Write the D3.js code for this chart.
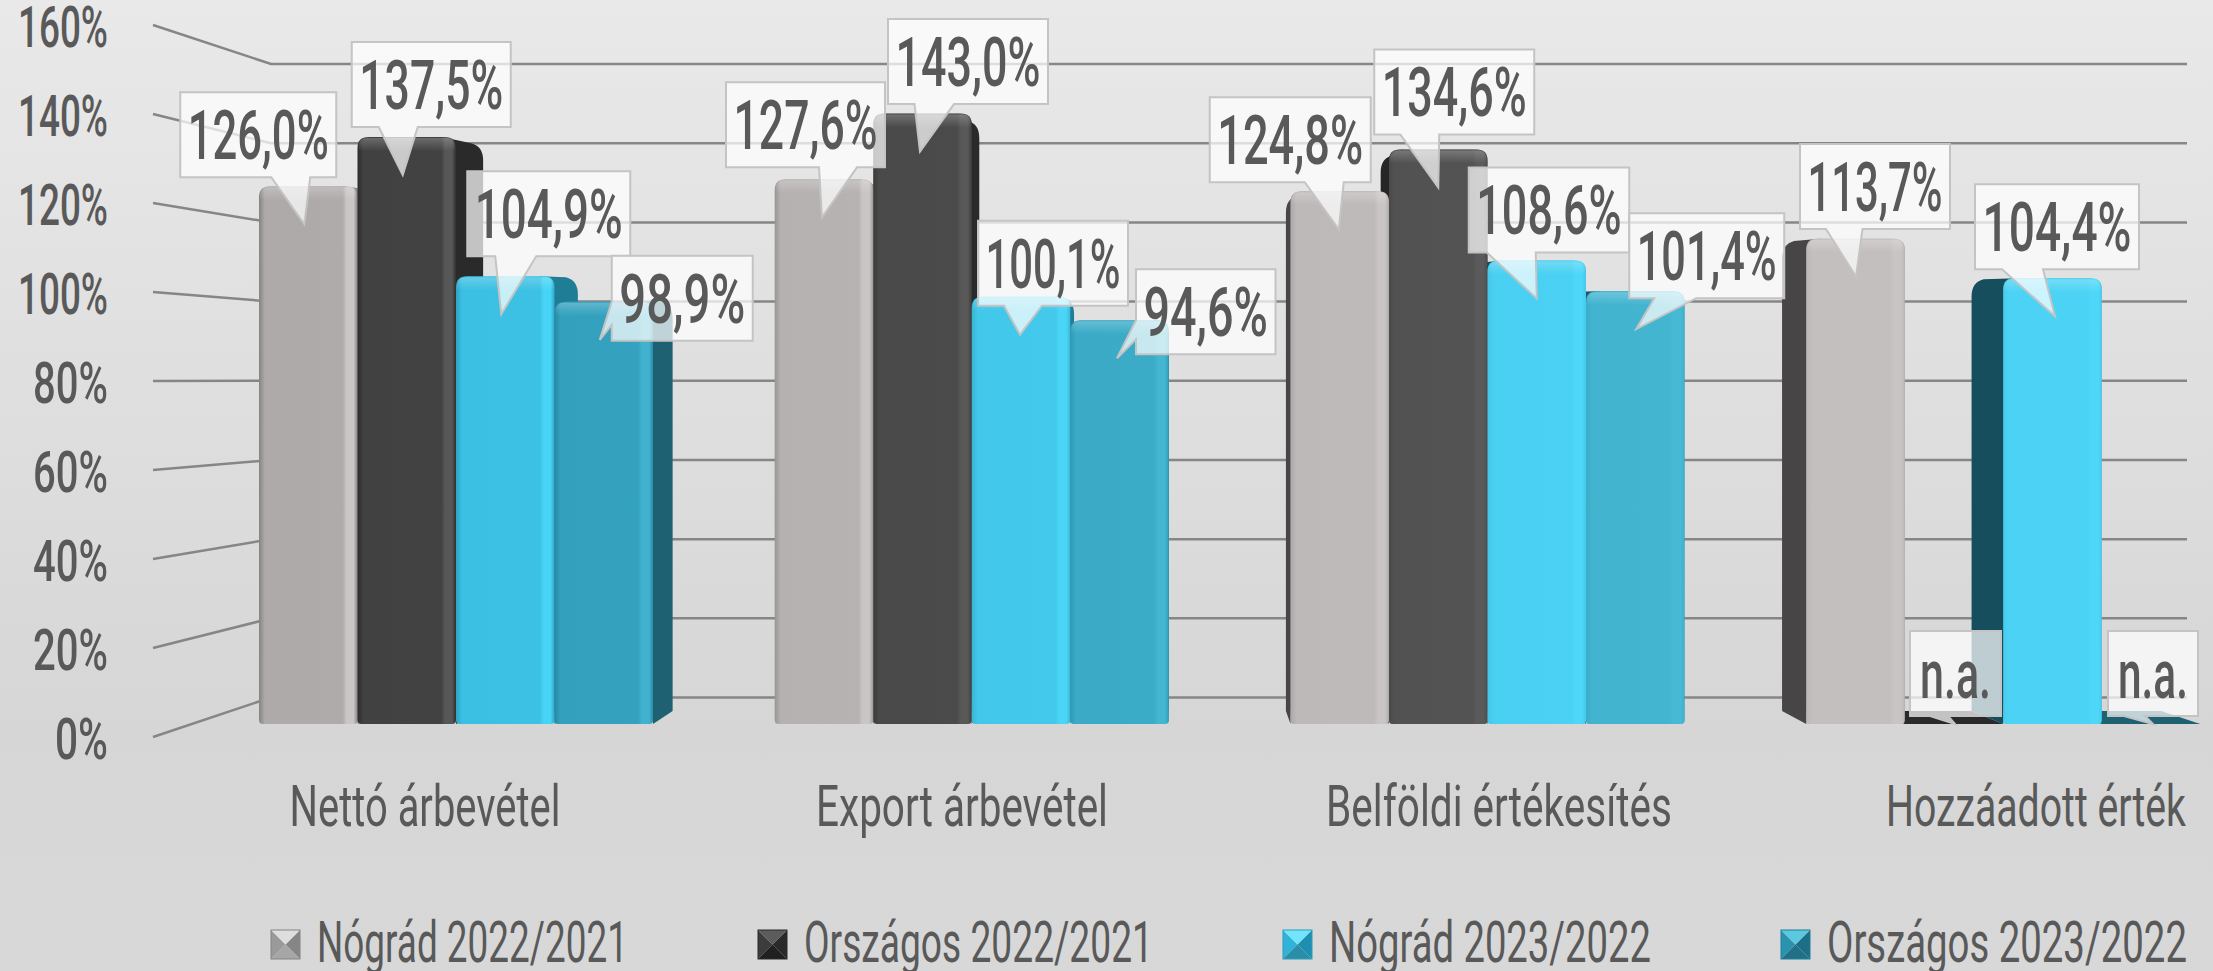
<!DOCTYPE html>
<html>
<head>
<meta charset="utf-8">
<script src="https://cdn.jsdelivr.net/npm/d3@7"></script>
<style>
html,body{margin:0;padding:0;background:#d7d7d7;overflow:hidden}
svg{display:block}
text{font-family:Roboto,"Liberation Sans",sans-serif;fill:#595959}
</style>
</head>
<body>
<svg id="c" width="2213" height="971"></svg>
<script>
// ---- data ----
const categories = ["Nettó árbevétel", "Export árbevétel", "Belföldi értékesítés", "Hozzáadott érték"];
const seriesNames = ["Nógrád 2022/2021", "Országos 2022/2021", "Nógrád 2023/2022", "Országos 2023/2022"];
const nogradPrev = [126.0, 127.6, 124.8, 113.7];
const orszagosPrev = [137.5, 143.0, 134.6, null];
const nogradCurr = [104.9, 100.1, 108.6, 104.4];
const orszagosCurr = [98.9, 94.6, 101.4, null];
const tickValues = [0, 20, 40, 60, 80, 100, 120, 140, 160];
const seriesValues = [nogradPrev, orszagosPrev, nogradCurr, orszagosCurr];

// ---- label layout (offsets from each bar's centre / pointer tip) ----
// [tipDx, boxLeft, boxRight, boxBottom, baseA, baseB, leftPointer?]
const calloutLayout = [
  [[-4,-128,28,-47,-37,2],[-2,-98,61,-50,-5,33],[-1,-130,31,-47,-35,4],[0.5,-55.5,94.5,-47.6,-29.5,7]],
  [[-4,-55,104,-48,-28,11],[-2.5,-34.5,125.5,-47.5,-8,31.5],[0,-64,96,-53,-38,1],[1,-44,47,-8,-24,-6]],
  [[-4,-38,125,-58,-10,31],[-1,-43,107,-29,-17,21],[0,-68,92.5,-46,-50,-1],[2.5,-77.5,86.5,-47,-50.5,-9.5]],
  [[-4,8,149,1,-38,-15,1],[-2.5,16.5,156,-4,-38,-19,1],[1,-6,149,-31,19,61],[2,-43,47,-8,-27,-6]]
];
const categoryWidths = [271, 292, 346, 300];
const legendWidths = [311, 349, 322, 360];

// ---- styles ----
const palette = [
  {edge:"#858381",base:"#aeaaa9",bevel:"#c9c6c5",lit:"#c8c4c3",right:"#8f8d8c",left:"#474546",sw:["#9a9a9a","#868686","#dedede","#a6a6a6"]},
  {edge:"#2b2b2b",base:"#404040",bevel:"#565656",lit:"#5c5c5c",right:"#2a2a2a",left:"#262626",sw:["#3c3c3c","#2a2a2a","#5c5c5c","#202020"]},
  {edge:"#2a9ebc",base:"#39bde0",bevel:"#45d3f5",lit:"#50d8fa",right:"#207d96",left:"#174e5d",sw:["#2fb3d6","#1e8fb0","#72e4fb","#2a8ea8"]},
  {edge:"#1f7f99",base:"#2f9cb9",bevel:"#40b0cc",lit:"#48bcd8",right:"#1d6173",left:"#1a5a6c",sw:["#2a94b0","#1c6f85","#5cc8de","#1f7088"]}
];
const W = 2213, H = 971;
const textColor = "#595959";
const vanish = {x:1170, y:381}, depth = 0.962;
const back = (x,y)=>[vanish.x+(x-vanish.x)*depth, vanish.y+(y-vanish.y)*depth];

// squeeze a text horizontally so that it spans the wanted width, anchored at (ax, ay)
function fit(node, width, ax, ay){
  const n = node.getComputedTextLength();
  d3.select(node).attr("x",0).attr("y",0).attr("dy",null).attr("transform",`translate(${ax},${ay}) scale(${width/n},1)`);
}

// ---- scales ----
const yBar = d3.scaleLinear().domain([0,160]).range([724,41]);
const yFront = d3.scaleLinear().domain([0,160]).range([737,25]);
const yBack = d3.scaleLinear().domain([0,160]).range([697.5,64]);
const x0 = d3.scaleBand().domain(categories).range([198,2261]);
const x1 = d3.scaleBand().domain(seriesNames).range([61,455]);
const xLabel = d3.scaleBand().domain(categories).range([156.5,2304.5]);
const wallFront = 153, wallBack = 271, gridEnd = 2187;

const svg = d3.select("#c");
const defs = svg.append("defs");

const bgGrad = defs.append("linearGradient").attr("id","bg").attr("x1",0).attr("x2",0).attr("y1",0).attr("y2",1);
[[0,"#e9e9e9"],[0.75,"#d6d6d6"],[1,"#d8d8d8"]].forEach(s=>bgGrad.append("stop").attr("offset",s[0]).attr("stop-color",s[1]));
svg.append("rect").attr("width",W).attr("height",H).attr("fill","url(#bg)");

palette.forEach((p,i)=>{
  const g = defs.append("linearGradient").attr("id","front"+i);
  [[0,p.edge],[0.06,p.base],[0.85,p.base],[0.89,p.bevel],[0.96,p.bevel],[1,p.edge]]
    .forEach(s=>g.append("stop").attr("offset",s[0]).attr("stop-color",s[1]));
  const l = defs.append("linearGradient").attr("id","lit"+i).attr("gradientUnits","userSpaceOnUse")
    .attr("x1",300).attr("x2",1700).attr("y1",0).attr("y2",0);
  l.append("stop").attr("offset",0).attr("stop-color",p.lit).attr("stop-opacity",0);
  l.append("stop").attr("offset",1).attr("stop-color",p.lit).attr("stop-opacity",0.8);
});
const topGlow = defs.append("linearGradient").attr("id","topGlow").attr("x1",0).attr("x2",0).attr("y1",0).attr("y2",1);
topGlow.append("stop").attr("offset",0).attr("stop-color","#fff").attr("stop-opacity",0.22);
topGlow.append("stop").attr("offset",1).attr("stop-color","#fff").attr("stop-opacity",0);

// ---- gridlines: back wall + left wall ----
const grid = svg.append("g").attr("stroke","#868686").attr("stroke-width",2.5).attr("fill","none");
grid.selectAll("path.g").data(tickValues).join("path").attr("class","g")
  .attr("d",d=>`M${wallFront},${yFront(d)}L${wallBack},${yBack(d)}L${gridEnd},${yBack(d)}`);

// ---- y axis labels ----
const axis = svg.append("g").attr("transform","translate(108,0)")
  .call(d3.axisLeft(yFront).tickValues(tickValues).tickFormat(d=>d+"%").tickSize(0).tickPadding(0));
axis.select(".domain").remove();
axis.selectAll("text")
  .style("font-size","58px").style("font-weight",500).style("font-family","Roboto").style("fill",textColor)
  .each(function(){
    const len = this.textContent.length;
    fit(this, len>3 ? 90 : (len>2 ? 75 : 53), 0, 21);
  });

// ---- bars ----
const bars = [];
categories.forEach((c,k)=>seriesNames.forEach((s,i)=>{
  const v = seriesValues[i][k];
  const xl = x0(c)+x1(s), xr = xl+x1.bandwidth();
  bars.push({c,s,k,i,v,xl,xr,top:yBar(v==null?0:v),base:yBar(0),cx:(xl+xr)/2});
}));
const poly = pts=>"M"+pts.map(p=>p.join(",")).join("L")+"Z";

// floors of the n.a. bars
svg.append("g").selectAll("path").data(bars.filter(b=>b.v==null)).join("path")
  .attr("fill",b=>palette[b.i].right)
  .attr("d",b=>poly([[b.xl,b.base],[b.xr,b.base],back(b.xr,b.base),back(b.xl,b.base)]));

// depth sides, with a rounded far corner
svg.append("g").selectAll("path").data(bars.filter(b=>b.v!=null)).join("path")
  .attr("fill",b=>b.xr<vanish.x+1?palette[b.i].right:palette[b.i].left)
  .attr("d",b=>{
    const toRight = b.xr<vanish.x+1;
    const e = toRight ? b.xr : b.xl;
    const [bx,by] = back(e,b.top);
    const [bbx,bby] = back(e,b.base);
    const s = toRight ? 1 : -1;
    return `M${e-s*14},${b.top}L${bx-s*12},${by-3}Q${bx},${by} ${bx},${by+14}L${bbx},${bby}L${e},${b.base}Z`;
  });

// fronts
const frontPath = b=>{
  const r=11,q=4;
  return `M${b.xl},${b.base-q}V${b.top+r}Q${b.xl},${b.top} ${b.xl+r},${b.top}H${b.xr-r}Q${b.xr},${b.top} ${b.xr},${b.top+r}V${b.base-q}Q${b.xr},${b.base} ${b.xr-q},${b.base}H${b.xl+q}Q${b.xl},${b.base} ${b.xl},${b.base-q}Z`;
};
const solid = bars.filter(b=>b.v!=null);
const fronts = svg.append("g");
fronts.selectAll("path.f").data(solid).join("path").attr("class","f")
  .attr("fill",b=>`url(#front${b.i})`).attr("d",frontPath);
fronts.selectAll("path.l").data(solid).join("path").attr("class","l")
  .attr("fill",b=>`url(#lit${b.i})`).attr("d",frontPath);
fronts.selectAll("path.t").data(solid).join("path").attr("class","t")
  .attr("fill","url(#topGlow)")
  .attr("d",b=>`M${b.xl+1},${b.top+14}V${b.top+10}Q${b.xl+1},${b.top+1} ${b.xl+10},${b.top+1}H${b.xr-10}Q${b.xr-1},${b.top+1} ${b.xr-1},${b.top+10}V${b.top+14}Z`);

// ---- callouts ----
const calloutG = svg.append("g");
bars.forEach(b=>{
  const row = calloutLayout[b.i][b.k];
  const [tipDx,L,R,B,A,Bb,leftP] = row;
  const tipY = b.v==null ? b.base : b.top+38;
  const tip = [b.cx+tipDx, tipY];
  const bottom = tipY+B, top = bottom-85, left=b.cx+L, right=b.cx+R;
  const pts = leftP
    ? [[left,top],[right,top],[right,bottom],[left,bottom],[left,tipY+Bb],tip,[left,tipY+A]]
    : [[left,top],[right,top],[right,bottom],[b.cx+Bb,bottom],tip,[b.cx+A,bottom],[left,bottom]];
  calloutG.append("path").attr("d",poly(pts))
    .attr("fill","#fff").attr("fill-opacity",0.72)
    .attr("stroke","#c4c4c4").attr("stroke-width",2).attr("stroke-linejoin","miter");
  const label = b.v==null ? "n.a." : b.v.toFixed(1).replace(".",",")+"%";
  const t = calloutG.append("text").attr("text-anchor","middle")
    .style("font-size","68px").style("font-weight",500).text(label);
  fit(t.node(), (right-left)-(b.v==null?20:15), (left+right)/2, bottom-18);
});

// ---- category labels ----
svg.append("g").selectAll("text").data(categories).join("text")
  .attr("text-anchor","middle")
  .style("font-size","58px").style("font-weight",400)
  .text(c=>c)
  .each(function(c,i){ fit(this, categoryWidths[i], xLabel(c)+xLabel.bandwidth()/2, 826); });

// ---- legend ----
const legend = svg.append("g");
let lx = 271;
seriesNames.forEach((s,i)=>{
  const g = legend.append("g").attr("transform",`translate(${lx},930)`);
  const z = 29, sw = palette[i].sw;
  const sq = d3.scaleLinear().domain([0,1]).range([0,z]);
  const a=sq(0),b=sq(1),c1=sq(.5);
  [[[a,a],[c1,c1],[a,b]],[[b,a],[c1,c1],[b,b]],[[a,a],[b,a],[c1,c1]],[[a,b],[b,b],[c1,c1]]]
    .forEach((t,j)=>g.append("path").attr("d",poly(t)).attr("fill",sw[j]));
  g.append("rect").attr("width",z).attr("height",z).attr("fill","none").attr("stroke",palette[i].edge).attr("stroke-width",1);
  const t = legend.append("text").style("font-size","58px").style("font-weight",400).text(s);
  fit(t.node(), legendWidths[i], lx+46, 962);
  lx += 46+legendWidths[i]+130;
});
</script>
</body>
</html>
